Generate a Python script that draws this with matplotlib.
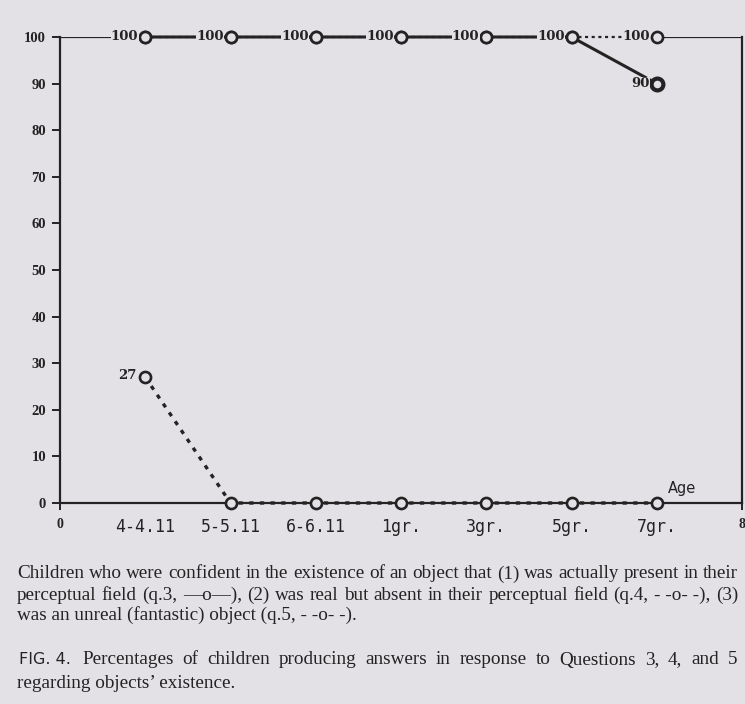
import matplotlib.pyplot as plt

# ages / school grades along the x axis
ages = ['4-4.11', '5-5.11', '6-6.11', '1gr.', '3gr.', '5gr.', '7gr.']
xpos = [1, 2, 3, 4, 5, 6, 7]

# percentages of confident children
q3 = [100, 100, 100, 100, 100, 100, 90]   # object present in perceptual field
q4 = [100, 100, 100, 100, 100, 100, 100]  # real but absent
q5 = [27, 0, 0, 0, 0, 0, 0]               # unreal (fantastic) object

# which points carry a value label
q3_lab = [0, 1, 2, 3, 4, 5, 6]
q4_lab = [6]
q5_lab = [0]

W, H = 745, 704
paper = '#e3e1e6'
ink = '#242222'

fig = plt.figure(figsize=(W / 100, H / 100), dpi=100, facecolor=paper)
ax = fig.add_axes([60 / W, 1 - 503 / H, 682 / W, 466 / H], facecolor=paper)
ax.set_xlim(0, 8)
ax.set_ylim(0, 100)

ax.spines['top'].set_visible(False)
for s in ['left', 'right', 'bottom']:
    ax.spines[s].set_color(ink)
    ax.spines[s].set_linewidth(1.6)

# frame pieces along the 100 line, outside the data
ax.plot([0, xpos[0]], [100, 100], color=ink, lw=1.6, zorder=2)
ax.plot([xpos[-1], 8], [100, 100], color=ink, lw=1.6, zorder=2)

mk = dict(marker='o', ms=8, mfc=paper, mec=ink, mew=1.9, clip_on=False)

ax.plot(xpos, q4, color=ink, lw=1.6, ls=(0, (1.4, 1.6)), zorder=3, **mk)
ax.plot(xpos, q3, color=ink, lw=2.2, zorder=4, **mk)
ax.plot(xpos[-1], q3[-1], color=ink, zorder=5, marker='o', ms=8.5,
        mfc=paper, mec=ink, mew=3, clip_on=False)
ax.plot(xpos, q5, color=ink, lw=2.4, ls=(0, (1.3, 1.9)), zorder=3, **mk)

lab = dict(fontsize=9.5, fontweight='bold', family='DejaVu Serif', color=ink,
           ha='right', va='center', zorder=6)
box = dict(boxstyle='square,pad=0.02', fc=paper, ec='none')
for i in q3_lab:
    ax.annotate(str(q3[i]), (xpos[i], q3[i]), xytext=(-5, 0),
                textcoords='offset points', bbox=box, **lab)
for i in q4_lab:
    ax.annotate(str(q4[i]), (xpos[i], q4[i]), xytext=(-5, 0),
                textcoords='offset points', bbox=box, **lab)
for i in q5_lab:
    ax.annotate(str(q5[i]), (xpos[i], q5[i]), xytext=(-6, 1),
                textcoords='offset points', **lab)

# y axis
ax.set_yticks(range(0, 101, 10))
ax.set_yticklabels([str(v) for v in range(0, 101, 10)],
                   fontsize=10.5, fontweight='bold', family='Liberation Serif', color=ink)
ax.tick_params(axis='y', length=6, width=1.4, color=ink, pad=4)

# x axis: 0 and 8 at the ends, age groups between
ax.set_xticks([0] + xpos + [8])
ax.set_xticklabels(['0'] + ages + ['8'], color=ink)
ax.tick_params(axis='x', length=5, width=1.4, color=ink, pad=6)
xl = ax.get_xticklabels()
for t in xl[1:-1]:
    t.set_fontsize(12)
    t.set_family('DejaVu Sans Mono')
for t in (xl[0], xl[-1]):
    t.set_fontsize(10)
    t.set_fontweight('bold')
    t.set_family('Liberation Serif')
ax.xaxis.get_major_ticks()[1].tick1line.set_visible(False)

ax.text(7.3, 1.5, 'Age', fontsize=10.5, color=ink, ha='center', va='bottom')

# caption
serif = ['Liberation Serif', 'DejaVu Serif']
cap = dict(fontsize=13.8, family=serif, color=ink, va='center', ha='left')
rend = fig.canvas.get_renderer()
nb = '\u00a0'


def justify(s, x0, x1, y):
    # spread the words of one line evenly between x0 and x1 (pixels)
    words = s.split(' ')
    texts = [fig.text(0, 1 - y / H, w, **cap) for w in words]
    widths = [t.get_window_extent(rend).width for t in texts]
    gap = (x1 - x0 - sum(widths)) / (len(words) - 1)
    x = x0
    for t, w in zip(texts, widths):
        t.set_x(x / W)
        x += w + gap


justify('Children who were confident in the existence of an object that (1) was actually present in their',
        17, 738, 574)
justify('perceptual field (q.3, \u2014o\u2014), (2) was real but absent in their perceptual field '
        '(q.4, -' + nb + '-o-' + nb + '-), (3)',
        17, 738, 595)
fig.text(17 / W, 1 - 615 / H, 'was an unreal (fantastic) object (q.5, - -o- -).', **cap)
fig.text(19 / W, 1 - 660 / H, 'FIG. 4.', fontsize=11.5, family='DejaVu Sans',
         color=ink, va='center', ha='left')
justify('Percentages of children producing answers in response to Questions 3, 4, and 5',
        82, 737, 660)
fig.text(17 / W, 1 - 684 / H, 'regarding objects\u2019 existence.', **cap)

fig.savefig('out.png', dpi=100, facecolor=paper)
